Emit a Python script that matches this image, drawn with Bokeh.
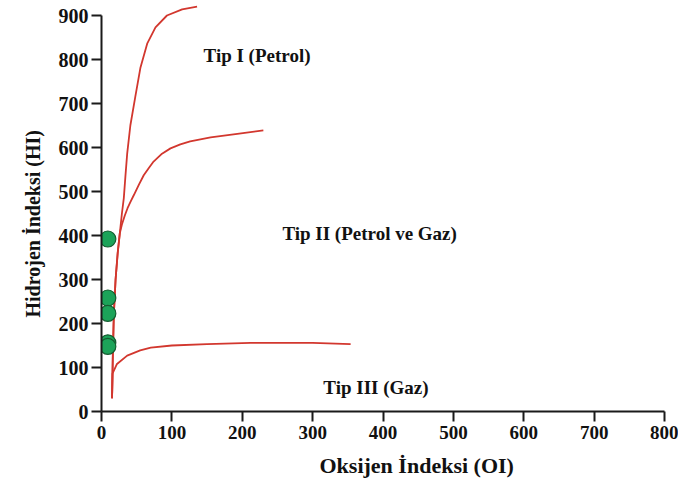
from bokeh.plotting import figure
from bokeh.models import Range1d, Label, Title
from bokeh.embed import file_html
from bokeh.resources import INLINE

# Type I (Petrol) curve
type1_oi = [15, 16, 17.5, 20, 23, 26, 29, 31.7, 34, 36.5, 41, 48, 55.4, 64.9, 76.7, 93, 114.6, 135.8]
type1_hi = [30, 120, 220, 300, 360, 405, 450, 485, 535, 586, 650, 715, 782, 836, 873, 900, 914, 920]

# Type II (Petrol ve Gaz) curve
type2_oi = [15, 16, 17.5, 20, 23, 26, 29, 33, 37, 41, 46, 53, 60, 67, 74, 86, 98, 112, 126, 155, 193, 230]
type2_hi = [30, 120, 220, 300, 360, 405, 425, 445, 462, 476, 492, 515, 537, 553, 568, 586, 598, 607, 614, 623, 631, 639]

# Type III (Gaz) curve
type3_oi = [15, 15.6, 22, 36.5, 55, 70, 100, 150, 212, 300, 354]
type3_hi = [30, 86, 108, 127, 139, 145, 150, 153, 156, 156, 153]

# Samples
sample_oi = [9, 9, 9, 9, 9]
sample_hi = [392, 258, 223, 156, 148]

x_ticks = [0, 100, 200, 300, 400, 500, 600, 700, 800]
y_ticks = [0, 100, 200, 300, 400, 500, 600, 700, 800, 900]

zone_labels = ["Tip I (Petrol)", "Tip II (Petrol ve Gaz)", "Tip III (Gaz)"]
zone_label_oi = [221, 381, 390]
zone_label_hi = [809, 405, 55]

FONT = "Liberation Serif"
RED = "#d2372e"

p = figure(width=678, height=486, output_backend="svg", toolbar_location=None,
           x_range=Range1d(0, 800), y_range=Range1d(0, 925),
           min_border_left=101, min_border_right=14, min_border_top=4, min_border_bottom=75)
p.outline_line_color = None
p.xgrid.visible = False
p.ygrid.visible = False
p.background_fill_color = "white"
p.border_fill_color = "white"

for ax in (p.xaxis[0], p.yaxis[0]):
    ax.axis_line_width = 2
    ax.axis_line_color = "#1a1a1a"
    ax.major_tick_line_width = 2
    ax.major_tick_line_color = "#1a1a1a"
    ax.major_tick_in = 0
    ax.major_tick_out = 10
    ax.minor_tick_line_color = None
    ax.major_label_text_font = FONT
    ax.major_label_text_font_style = "bold"
    ax.major_label_text_color = "#111111"

p.yaxis.bounds = (0, 900)
p.xaxis.ticker = x_ticks
p.yaxis.ticker = y_ticks
p.xaxis.major_label_text_font_size = "19px"
p.yaxis.major_label_text_font_size = "20px"
p.xaxis.major_label_standoff = 4
p.yaxis.major_label_standoff = 3

p.line(type1_oi, type1_hi, line_color=RED, line_width=1.8)
p.line(type2_oi, type2_hi, line_color=RED, line_width=1.8)
p.line(type3_oi, type3_hi, line_color=RED, line_width=1.8)

p.scatter(sample_oi, sample_hi, size=16, fill_color="#1ca359", line_color="#145c30", line_width=1.2)

for t, x, y in zip(zone_labels, zone_label_oi, zone_label_hi):
    p.add_layout(Label(x=x, y=y, text=t, text_align="center", text_baseline="middle",
                       text_font=FONT, text_font_style="bold", text_font_size="19px",
                       text_color="#111111"))

p.add_layout(Title(text="Oksijen İndeksi (OI)", align="left", offset=218, standoff=18,
                   text_font=FONT, text_font_style="bold", text_font_size="22px",
                   text_color="#111111"), "below")

p.add_layout(Title(text="Hidrojen İndeksi (HI)", align="left", offset=94, standoff=24,
                   text_font=FONT, text_font_style="bold", text_font_size="20px",
                   text_color="#111111"), "left")

open("out.html", "w").write(file_html(p, INLINE))
